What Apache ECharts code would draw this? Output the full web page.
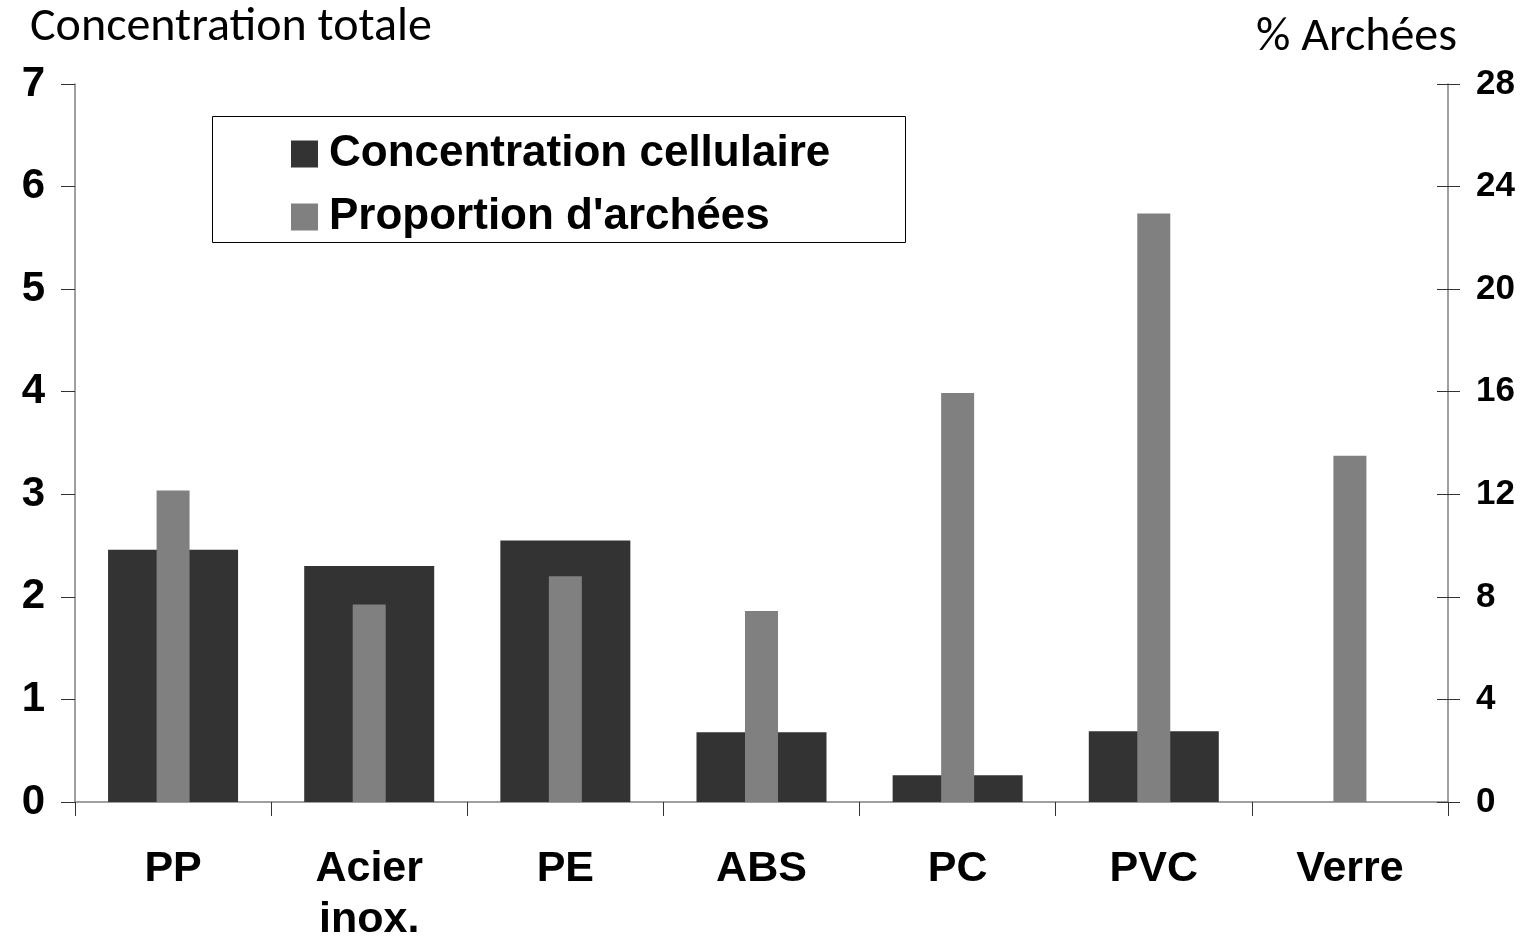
<!DOCTYPE html>
<html>
<head>
<meta charset="utf-8">
<script src="https://cdn.jsdelivr.net/npm/echarts@6/dist/echarts.min.js"></script>
<style>
  html,body{margin:0;padding:0;background:#fff;}
  #chart{width:1528px;height:937px;}
</style>
</head>
<body>
<div id="chart"></div>
<script>
// materials (x axis)
const materials = ['PP', 'Acier\ninox.', 'PE', 'ABS', 'PC', 'PVC', 'Verre']
// left axis: concentration cellulaire
const concentration = [2.46, 2.30, 2.55, 0.68, 0.26, 0.69, 0]
// right axis: % archées
const archees = [12.15, 7.7, 8.8, 7.45, 15.95, 22.95, 13.5]
const leftTicks = { min: 0, max: 7, interval: 1 }
const rightTicks = { min: 0, max: 28, interval: 4 }

const chart = echarts.init(document.getElementById('chart'))

const boldLabel = { fontFamily: 'Liberation Sans, Arial', fontWeight: 'bold', color: '#000' }

const option = {
  animation: false,
  backgroundColor: '#fff',
  title: [
    {
      text: 'Concentration totale',
      left: 30, top: 4, padding: 0,
      textStyle: { fontFamily: 'Carlito, Noto Sans', fontWeight: 'normal', fontSize: 48, color: '#000' }
    },
    {
      text: '% Archées',
      right: 71, top: 14, padding: 0,
      textStyle: { fontFamily: 'Carlito, Noto Sans', fontWeight: 'normal', fontSize: 48, color: '#000' }
    }
  ],
  legend: {
    orient: 'vertical',
    left: 291, top: 132, padding: 0,
    itemWidth: 27, itemHeight: 27, itemGap: 19,
    icon: 'rect',
    textStyle: {
      fontFamily: 'Liberation Sans, Arial', fontWeight: 'bold', fontSize: 44,
      lineHeight: 44, color: '#000', padding: [0, 0, 0, 6]
    },
    data: ['Concentration cellulaire', "Proportion d'archées"]
  },
  graphic: [{
    type: 'rect',
    shape: { x: 212.5, y: 116.5, width: 693, height: 126 },
    style: { fill: 'none', stroke: '#000', lineWidth: 1 },
    z: 1
  }],
  grid: { left: 75, right: 80, top: 84, bottom: 135, outerBoundsMode: 'none', containLabel: false },
  xAxis: [
    {
      type: 'category',
      data: materials,
      axisLine: { lineStyle: { color: '#808080', width: 1.5 } },
      axisTick: { show: true, length: 14, lineStyle: { color: '#333' }, alignWithLabel: false },
      axisLabel: Object.assign({ fontSize: 43, margin: 42, lineHeight: 51 }, boldLabel)
    },
    {
      type: 'category',
      data: materials,
      show: false
    }
  ],
  yAxis: [
    {
      type: 'value',
      min: leftTicks.min, max: leftTicks.max, interval: leftTicks.interval,
      splitLine: { show: false },
      axisLine: { show: true, lineStyle: { color: '#808080', width: 1.5 } },
      axisTick: { show: true, length: 14, lineStyle: { color: '#333' } },
      axisLabel: Object.assign({ fontSize: 42, margin: 30 }, boldLabel)
    },
    {
      type: 'value',
      position: 'right',
      min: rightTicks.min, max: rightTicks.max, interval: rightTicks.interval,
      splitLine: { show: false },
      axisLine: { show: true, lineStyle: { color: '#808080', width: 1.5 } },
      axisTick: { show: true, length: 12, lineStyle: { color: '#333' } },
      axisLabel: Object.assign({ fontSize: 35, margin: 28 }, boldLabel)
    },
    {
      // inner half of the crossing ticks on the right axis
      type: 'value',
      position: 'right',
      min: rightTicks.min, max: rightTicks.max, interval: rightTicks.interval,
      splitLine: { show: false },
      axisLine: { show: false },
      axisTick: { show: true, inside: true, length: 11, lineStyle: { color: '#333' } },
      axisLabel: { show: false }
    }
  ],
  series: [
    {
      name: 'Concentration cellulaire',
      type: 'bar',
      xAxisIndex: 0, yAxisIndex: 0,
      barWidth: 130,
      itemStyle: { color: '#333333' },
      data: concentration
    },
    {
      name: "Proportion d'archées",
      type: 'bar',
      xAxisIndex: 1, yAxisIndex: 1,
      barWidth: 33,
      itemStyle: { color: '#808080' },
      data: archees
    }
  ]
}
chart.setOption(option)
</script>
</body>
</html>
